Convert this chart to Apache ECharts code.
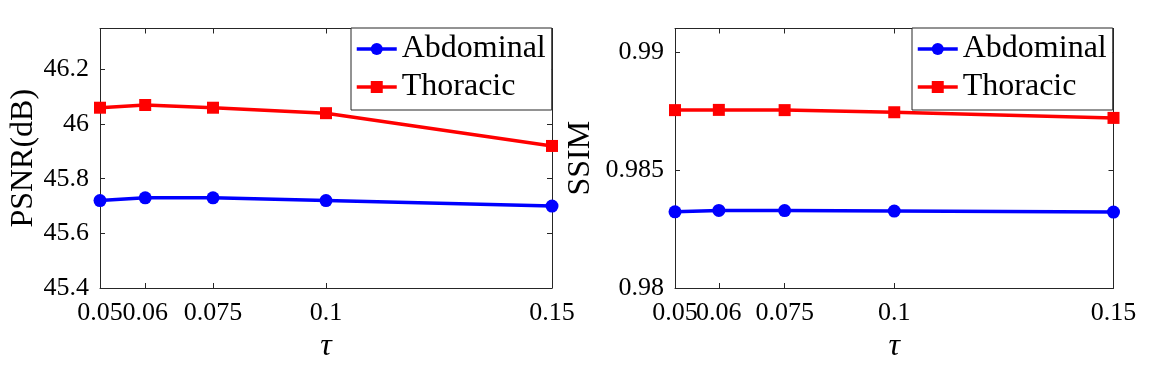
<!DOCTYPE html>
<html>
<head>
<meta charset="utf-8">
<script src="https://cdn.jsdelivr.net/npm/echarts@6/dist/echarts.min.js"></script>
<style>
  html, body { margin: 0; padding: 0; background: #fff; }
  #main { width: 1172px; height: 370px; }
</style>
</head>
<body>
<div id="main"></div>
<script>
// data
var tau = [0.05, 0.06, 0.075, 0.1, 0.15];
var psnrAbdominal = [45.72, 45.73, 45.73, 45.72, 45.70];
var psnrThoracic = [46.06, 46.07, 46.06, 46.04, 45.92];
var ssimAbdominal = [0.98323, 0.98329, 0.98328, 0.98326, 0.98322];
var ssimThoracic = [0.98754, 0.98755, 0.98754, 0.98745, 0.98721];
var seriesNames = ['Abdominal', 'Thoracic'];

function pairs(xs, ys) {
  return xs.map(function (x, i) { return [x, ys[i]]; });
}

var font = '"Liberation Serif", "Times New Roman", serif';
var ink = '#262626';

// kind: 'bottom' (line, ticks, labels except first), 'top' (mirror ticks),
// 'first' (only the first label; the library would otherwise drop it as overlapping)
function xAxes(gridIndex, kind) {
  var labelVals = kind === 'first' ? tau.slice(0, 1) : tau.slice(1);
  return {
    type: 'value', gridIndex: gridIndex, min: 0.05, max: 0.15,
    position: kind === 'top' ? 'top' : 'bottom',
    splitLine: { show: false },
    axisLine: { show: kind !== 'first', onZero: false, lineStyle: { color: ink, width: 1 } },
    axisTick: { show: kind !== 'first', inside: true, length: 5, customValues: tau, lineStyle: { color: ink } },
    axisLabel: kind === 'top' ? { show: false } : {
      customValues: labelVals, margin: 12, color: '#000', fontFamily: font, fontSize: 26,
      hideOverlap: false,
      formatter: function (v) { return String(v); }
    },
    name: kind === 'bottom' ? 'τ' : '',
    nameLocation: 'middle', nameGap: 43,
    nameTextStyle: { fontFamily: font, fontSize: 32, fontStyle: 'italic', color: '#000' }
  };
}

function yAxes(gridIndex, onRight, min, max, step, digits, name, gap) {
  return {
    type: 'value', gridIndex: gridIndex, min: min, max: max, interval: step,
    position: onRight ? 'right' : 'left',
    splitLine: { show: false },
    axisLine: { show: true, onZero: false, lineStyle: { color: ink, width: 1 } },
    axisTick: { show: true, inside: true, length: 5, lineStyle: { color: ink } },
    axisLabel: onRight ? { show: false } : {
      margin: 11, color: '#000', fontFamily: font, fontSize: 26, showMaxLabel: false,
      formatter: function (v) { return String(+v.toFixed(digits)); }
    },
    name: onRight ? '' : name,
    nameLocation: 'middle', nameGap: gap,
    nameTextStyle: { fontFamily: font, fontSize: 32, color: '#000' }
  };
}

function lineSeries(name, xi, yi, data) {
  var blue = name === 'Abdominal';
  return {
    name: name, type: 'line', xAxisIndex: xi, yAxisIndex: yi,
    data: data,
    symbol: blue ? 'circle' : 'rect',
    symbolSize: blue ? 13 : 12,
    color: blue ? '#0000ff' : '#ff0000',
    lineStyle: { width: 3.5 },
    animation: false
  };
}

function legendAt(left) {
  return {
    data: seriesNames, orient: 'vertical', left: left, top: 28,
    backgroundColor: '#fff', borderColor: ink, borderWidth: 1,
    padding: [5, 6, 7, 4], itemGap: 6, itemWidth: 40, itemHeight: 15,
    lineStyle: { width: 3.5 },
    textStyle: { fontFamily: font, fontSize: 32, color: '#000' },
    selectedMode: false
  };
}

var myChart = echarts.init(document.getElementById('main'));

var option = {
  backgroundColor: '#fff',
  animation: false,
  grid: [
    { left: 100, right: 620, top: 28.5, bottom: 82 },
    { left: 675, right: 58.5, top: 28.5, bottom: 82 }
  ],
  xAxis: [
    xAxes(0, 'bottom'), xAxes(0, 'top'), xAxes(0, 'first'),
    xAxes(1, 'bottom'), xAxes(1, 'top'), xAxes(1, 'first')
  ],
  yAxis: [
    yAxes(0, false, 45.4, 46.35, 0.2, 3, 'PSNR(dB)', 60),
    yAxes(0, true, 45.4, 46.35, 0.2, 3, '', 0),
    yAxes(1, false, 0.98, 0.991, 0.005, 4, 'SSIM', 78),
    yAxes(1, true, 0.98, 0.991, 0.005, 4, '', 0)
  ],
  legend: [legendAt(351), legendAt(912)],
  series: [
    lineSeries('Abdominal', 0, 0, pairs(tau, psnrAbdominal)),
    lineSeries('Thoracic', 0, 0, pairs(tau, psnrThoracic)),
    lineSeries('Abdominal', 3, 2, pairs(tau, ssimAbdominal)),
    lineSeries('Thoracic', 3, 2, pairs(tau, ssimThoracic))
  ]
};

myChart.setOption(option);
</script>
</body>
</html>
